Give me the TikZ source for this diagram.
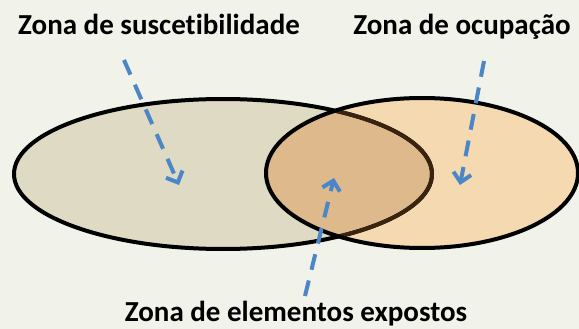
\documentclass[tikz,border=0pt]{standalone}
\usepackage{fontspec}
\setmainfont{Carlito}[Ligatures=NoCommon]
\usetikzlibrary{arrows.meta}
\definecolor{bgc}{HTML}{F1F2E9}
\definecolor{leftfill}{HTML}{DEDAC4}
\definecolor{rightfill}{HTML}{F5D9B0}
\definecolor{midfill}{HTML}{DEB98C}
\definecolor{innerline}{HTML}{3A2410}
\definecolor{arrowblue}{HTML}{4A86C8}
\tikzset{
  label/.style={font=\fontsize{29}{32}\selectfont\bfseries, text=black, inner sep=0pt, anchor=base},
  zoneline/.style={line width=4pt, draw=black},
  pointer/.style={draw=arrowblue, line width=4pt, dash pattern=on 16pt off 11pt,
    -{Straight Barb[length=9pt,width=18pt,line width=4pt]}},
}
\begin{document}
\begin{tikzpicture}[x=1pt,y=-1pt]
\fill[bgc] (0,0) rectangle (579,329);
\useasboundingbox (0,0) rectangle (579,329);
% ellipses
\coordinate (lc) at (223,174);
\coordinate (rc) at (422,173);
\fill[leftfill] (lc) ellipse [x radius=209, y radius=75];
\fill[rightfill] (rc) ellipse [x radius=156, y radius=75];
\begin{scope}
  \clip (lc) ellipse [x radius=209, y radius=75];
  \fill[midfill] (rc) ellipse [x radius=156, y radius=75];
\end{scope}
\draw[zoneline] (lc) ellipse [x radius=209, y radius=75];
\begin{scope}
  \clip (rc) ellipse [x radius=156, y radius=75];
  \draw[zoneline, draw=innerline] (lc) ellipse [x radius=209, y radius=75];
\end{scope}
\draw[zoneline] (rc) ellipse [x radius=156, y radius=75];
% labels
\node[label] (sus) at (159,35) {Zona de suscetibilidade};
\node[label] (ocu) at (462,35) {Zona de ocupação};
\node[label] (exp) at (296,321) {Zona de elementos expostos};
% arrows
\coordinate (a1s) at (124,60);
\coordinate (a1e) at (179,185);
\coordinate (a2s) at (484,61);
\coordinate (a2e) at (460,185);
\coordinate (a3s) at (305,296);
\coordinate (a3e) at (334,178);
\draw[pointer] (a1s) -- (a1e);
\draw[pointer] (a2s) -- (a2e);
\draw[pointer] (a3s) -- (a3e);
\end{tikzpicture}
\end{document}
